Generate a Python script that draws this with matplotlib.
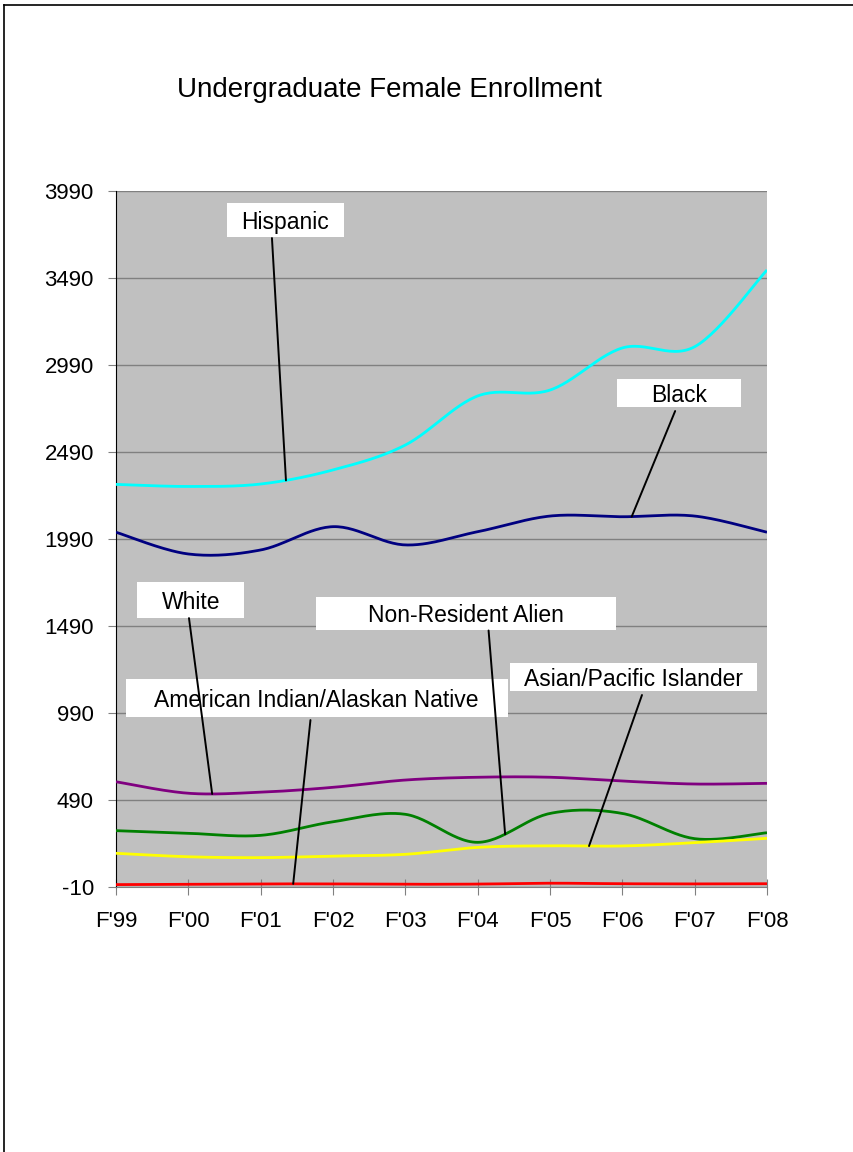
import numpy as np
import matplotlib
matplotlib.use('Agg')
import matplotlib.pyplot as plt
from matplotlib.lines import Line2D
from matplotlib.patches import Rectangle
from matplotlib.transforms import ScaledTranslation

plt.rcParams['font.family'] = ['Liberation Sans', 'DejaVu Sans']

# data
years = ["F'99", "F'00", "F'01", "F'02", "F'03", "F'04", "F'05", "F'06", "F'07", "F'08"]
hispanic = [2304, 2292, 2306, 2387, 2530, 2812, 2846, 3088, 3095, 3536]
black = [2029, 1904, 1927, 2061, 1956, 2032, 2122, 2118, 2122, 2029]
white = [595, 529, 535, 563, 605, 621, 621, 599, 582, 586]
non_resident = [314, 299, 287, 365, 408, 247, 413, 413, 268, 302]
asian = [184, 164, 159, 168, 178, 218, 227, 226, 245, 270]
american_indian = [4, 6, 8, 8, 6, 7, 12, 9, 8, 9]

yticks = [-10, 490, 990, 1490, 1990, 2490, 2990, 3490, 3990]


def smooth(y, n=30):
    # excel style smoothed line (bezier through the points)
    y = np.asarray(y, float)
    x = np.arange(len(y), dtype=float)
    px = np.concatenate([[x[0]], x, [x[-1]]])
    py = np.concatenate([[y[0]], y, [y[-1]]])
    xs, ys = [], []
    t = np.linspace(0, 1, n)
    for i in range(len(y) - 1):
        p0 = np.array([px[i + 1], py[i + 1]])
        p3 = np.array([px[i + 2], py[i + 2]])
        c1 = p0 + (np.array([px[i + 2], py[i + 2]]) - np.array([px[i], py[i]])) / 6
        c2 = p3 - (np.array([px[i + 3], py[i + 3]]) - np.array([px[i + 1], py[i + 1]])) / 6
        bx = (1-t)**3*p0[0] + 3*(1-t)**2*t*c1[0] + 3*(1-t)*t**2*c2[0] + t**3*p3[0]
        by = (1-t)**3*p0[1] + 3*(1-t)**2*t*c1[1] + 3*(1-t)*t**2*c2[1] + t**3*p3[1]
        xs.append(bx)
        ys.append(by)
    return np.concatenate(xs), np.concatenate(ys)


series = [
    ('Hispanic', hispanic, '#00FFFF'),
    ('Black', black, '#000080'),
    ('White', white, '#800080'),
    ('Non-Resident Alien', non_resident, '#008000'),
    ('Asian/Pacific Islander', asian, '#FFFF00'),
    ('American Indian/Alaskan Native', american_indian, '#FF0000'),
]

# label layout: x on the line, text centre (data), box w/h (px), leader start offset (px)
labels = {
    'Hispanic': (2.35, 2.343, 3823, 117, 34, (-13.5, 18)),
    'Black': (7.13, 7.79, 2829, 124, 28, (-4.3, 18)),
    'White': (1.33, 1.037, 1639, 107, 36, (-2, 18)),
    'Non-Resident Alien': (5.38, 4.836, 1562, 300, 33, (22.8, 17)),
    'Asian/Pacific Islander': (6.54, 7.153, 1197, 247, 28, (8.6, 18)),
    'American Indian/Alaskan Native': (2.45, 2.773, 1076, 382, 38, (-6.1, 22)),
}

fig = plt.figure(figsize=(8.54, 11.52), dpi=100)
ax = fig.add_axes([0.1358, 0.2300, 0.7623, 0.6042])
ax.set_facecolor('#C0C0C0')

for name, vals, col in series:
    sx, sy = smooth(vals)
    ax.plot(sx, sy, color=col, lw=2.0, solid_capstyle='butt', zorder=3)

for name, vals, col in series:
    lx, tx, ty, bw, bh, (ox, oy) = labels[name]
    sx, sy = smooth(vals)
    ly = np.interp(lx, sx, sy)
    anchor = fig.dpi_scale_trans + ScaledTranslation(tx, ty, ax.transData)
    ax.add_patch(Rectangle((-bw / 200, -bh / 200), bw / 100, bh / 100,
                           transform=anchor, fc='white', ec='none', zorder=5,
                           clip_on=False))
    ax.text(0, 0, name, transform=anchor, ha='center', va='center_baseline',
            fontsize=16.5, color='black', zorder=6)
    ax.annotate('', xy=(lx, ly), xytext=(ox / 100, -oy / 100), textcoords=anchor,
                arrowprops=dict(arrowstyle='-', color='black', lw=1.4,
                                shrinkA=0, shrinkB=0), zorder=6)

ax.set_xlim(0, len(years) - 1)
ax.set_ylim(-10, 3990)
ax.set_xticks(range(len(years)))
ax.set_xticklabels(years, fontsize=16)
ax.set_yticks(yticks)
ax.set_yticklabels([str(v) for v in yticks], fontsize=16)
ax.grid(axis='y', color='#808080', lw=1)
ax.set_axisbelow(True)
ax.tick_params(axis='x', direction='inout', length=11, color='#808080', pad=12)
ax.tick_params(axis='y', direction='out', length=6, color='#808080', pad=10)
for s in ['top', 'right']:
    ax.spines[s].set_visible(False)
ax.spines['left'].set_color('black')
ax.spines['bottom'].set_color('#808080')

fig.text(0.2073, 0.9218, 'Undergraduate Female Enrollment', fontsize=20,
         ha='left', va='center')

# outer frame of the chart
fig.add_artist(Line2D([4.5/854, 4.5/854], [0, 1 - 4.5/1152], color='black', lw=1.2))
fig.add_artist(Line2D([4.5/854, 1], [1 - 4.5/1152, 1 - 4.5/1152], color='black', lw=1.2))

fig.savefig('out.png', dpi=100)
